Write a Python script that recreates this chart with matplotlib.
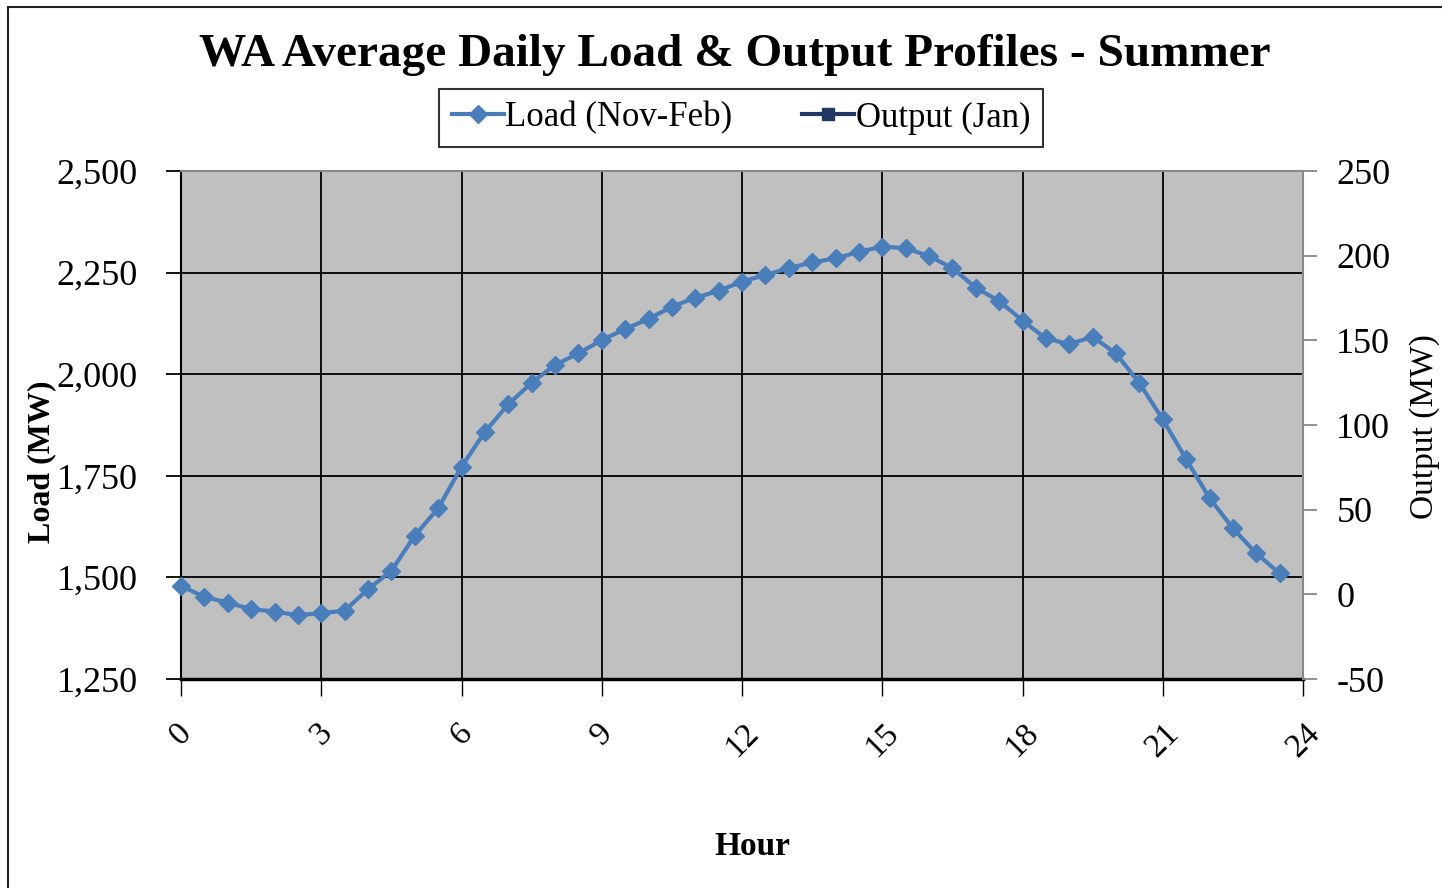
import matplotlib.pyplot as plt
from matplotlib.lines import Line2D
from matplotlib.patches import Rectangle
from matplotlib.ticker import FuncFormatter

plt.rcParams['font.family'] = ['Liberation Serif', 'DejaVu Serif']
plt.rcParams['axes.unicode_minus'] = False

# half-hourly average load, hours 0 .. 23.5
hours = [h / 2 for h in range(48)]
load_mw = [1479, 1452, 1438, 1422, 1416, 1407, 1412, 1418,
           1471, 1516, 1603, 1670, 1772, 1858, 1926, 1979,
           2023, 2051, 2084, 2111, 2136, 2166, 2188, 2205,
           2228, 2244, 2261, 2275, 2285, 2301, 2314, 2310,
           2291, 2261, 2213, 2180, 2132, 2088, 2074, 2092,
           2051, 1978, 1889, 1791, 1695, 1621, 1559, 1510]
# Output (Jan) has no plotted values in the source chart
out_hours = []
output_mw = []

x_ticks = [0, 3, 6, 9, 12, 15, 18, 21, 24]
load_ticks = [1250, 1500, 1750, 2000, 2250, 2500]
out_ticks = [-50, 0, 50, 100, 150, 200, 250]

load_col = "#4A7EBB"
out_col = "#1F3864"
W, H = 1442, 888

fig = plt.figure(figsize=(W / 100, H / 100), dpi=100)
fig.patches.append(Rectangle((8 / W, -0.1), 1.2, 1 - 7 / H + 0.1,
                             transform=fig.transFigure, fill=False,
                             edgecolor="#222222", lw=1.5))

ax = fig.add_axes([181 / W, 1 - 679 / H, (1303 - 181) / W, (679 - 171) / H])
ax.set_facecolor("#C0C0C0")
ax.plot(hours, load_mw, color=load_col, lw=3, marker="D", ms=9,
        markeredgecolor=load_col, clip_on=False, zorder=5)
ax.set_xlim(0, 24)
ax.set_ylim(1250, 2500)
ax.set_xticks(x_ticks)
ax.set_yticks(load_ticks)
ax.yaxis.set_major_formatter(FuncFormatter(lambda v, p: f"{int(v):,}"))
ax.grid(True, color="black", lw=1.3)
ax.set_axisbelow(True)
ax.tick_params(axis="y", labelsize=26, length=11, width=1.3, pad=20)
ax.tick_params(axis="x", labelsize=24, length=12, width=1.0, pad=16)
for lab in ax.get_xticklabels():
    lab.set_rotation(45)
    lab.set_ha("center")
    lab.set_va("top")
ax.spines["left"].set_linewidth(1.5)
ax.spines["bottom"].set_linewidth(2.5)
ax.spines["top"].set_color("#888888")
ax.spines["top"].set_linewidth(1.5)
ax.spines["right"].set_visible(False)

ax2 = ax.twinx()
ax2.plot(out_hours, output_mw, color=out_col, lw=3, marker="s")
ax2.set_ylim(-50, 250)
ax2.set_yticks(out_ticks)
ax2.tick_params(axis="y", labelsize=26, length=10, width=1.3,
                color="#888888", pad=14)
ax2.spines["right"].set_color("#888888")
ax2.spines["right"].set_linewidth(1.5)
for s in ("left", "top", "bottom"):
    ax2.spines[s].set_visible(False)

fig.text(735 / W, 1 - 55 / H, "WA Average Daily Load & Output Profiles - Summer",
         ha="center", va="center", fontsize=34, fontweight="bold")
fig.text(42 / W, 1 - 462 / H, "Load (MW)", rotation=90, ha="center",
         va="center", fontsize=23, fontweight="bold")
fig.text(1425 / W, 1 - 427 / H, "Output (MW)", rotation=90, ha="center",
         va="center", fontsize=24)
fig.text(752 / W, 1 - 846 / H, "Hour", ha="center", va="center",
         fontsize=24, fontweight="bold")

handles = [Line2D([], [], color=load_col, lw=3, marker="D", ms=9),
           Line2D([], [], color=out_col, lw=3, marker="s", ms=9)]
leg = fig.legend(handles, ["Load (Nov-Feb)", "Output (Jan)"], ncol=2,
                 loc="center", bbox_to_anchor=(741 / W, 1 - 118 / H),
                 fontsize=25, frameon=True, fancybox=False, edgecolor="black",
                 handlelength=1.5, handletextpad=0.05, columnspacing=2.0,
                 borderpad=0.35, borderaxespad=0, handleheight=0.7)
leg.get_frame().set_linewidth(1.5)
for t in leg.get_texts():
    t.set_x(0)

fig.savefig("out.png", dpi=100)
